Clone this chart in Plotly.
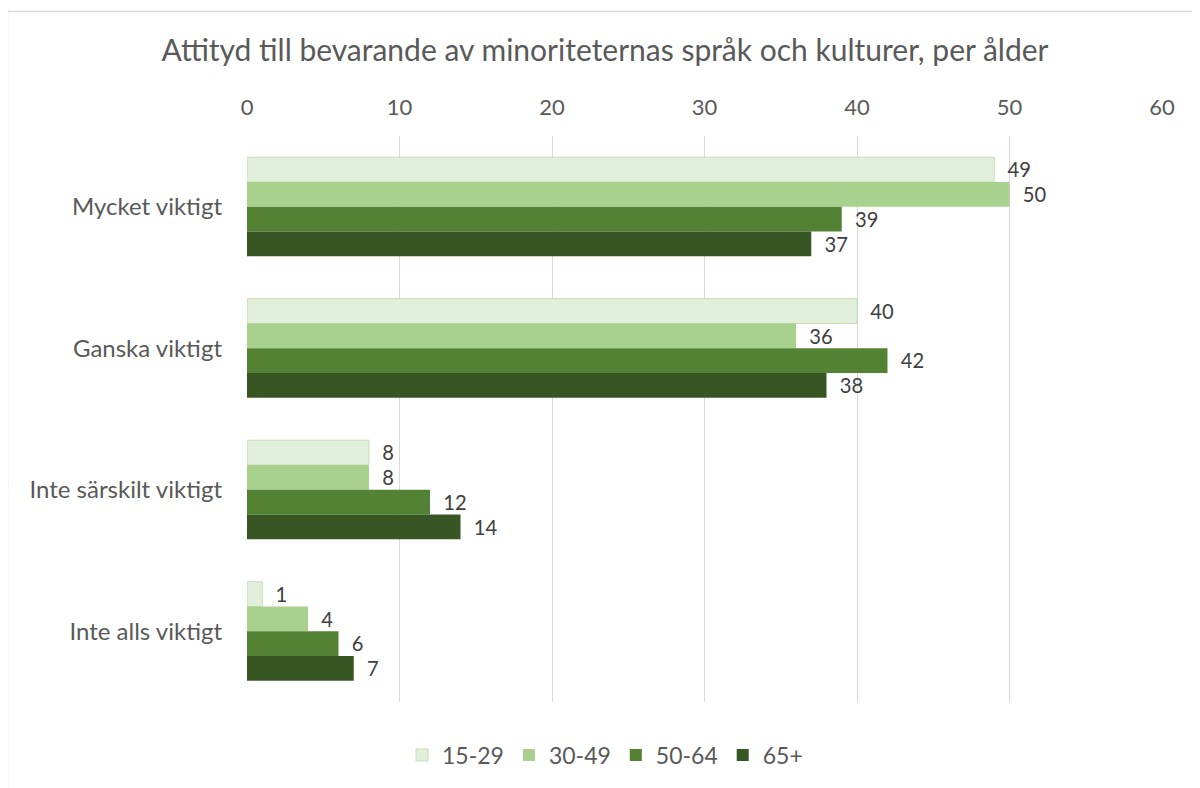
import plotly.graph_objects as go

categories = ["Mycket viktigt", "Ganska viktigt", "Inte särskilt viktigt", "Inte alls viktigt"]
series_names = ["15-29", "30-49", "50-64", "65+"]
values_15_29 = [49, 40, 8, 1]
values_30_49 = [50, 36, 8, 4]
values_50_64 = [39, 42, 12, 6]
values_65 = [37, 38, 14, 7]
x_ticks = [0, 10, 20, 30, 40, 50, 60]
title_text = "Attityd till bevarande av minoriteternas språk och kulturer, per ålder"

all_values = [values_15_29, values_30_49, values_50_64, values_65]
colors = ["#E2EFDA", "#A9D18E", "#548235", "#375623"]
line_colors = ["#C5E0B4", "#A9D18E", "#548235", "#375623"]
line_widths = [1, 0, 0, 0]

FONT = "Lato"

fig = go.Figure()
for name, vals, c, lc, lw in zip(series_names, all_values, colors, line_colors, line_widths):
    fig.add_trace(go.Bar(
        name=name, y=categories, x=vals, orientation="h",
        marker=dict(color=c, line=dict(color=lc, width=lw)),
        text=vals, texttemplate="\u00a0\u00a0%{x}", textposition="outside",
        textfont=dict(family=FONT, size=22, color="#404040"),
        cliponaxis=False,
    ))

# page is offset by 8px (browser body margin)
OFF = 8
W, H = 1200, 788
L, T = 247 - OFF, 136 - OFF
pw, ph = 915, 566
R, B = W - L - pw, H - T - ph

def px_to_paper_x(px):
    return (px - OFF - L) / pw

def px_to_paper_y(py):
    return (T + ph - (py - OFF)) / ph

fig.update_layout(
    width=W, height=H,
    margin=dict(l=L, r=R, t=T, b=B),
    paper_bgcolor="white", plot_bgcolor="white",
    barmode="group", bargap=0.30, bargroupgap=0,
    font=dict(family=FONT, color="#595959"),
    title=dict(text=title_text, x=(605 - OFF) / W, xref="container", xanchor="center",
               y=1 - (50 - OFF) / H, yref="container", yanchor="middle",
               font=dict(family=FONT, size=30, color="#595959")),
    xaxis=dict(side="top", range=[0, 60], tickvals=x_ticks, showgrid=True,
               gridcolor="#D9D9D9", gridwidth=1, zeroline=False,
               showline=False, ticks="", ticklabelstandoff=16,
               tickfont=dict(family=FONT, size=22, color="#595959")),
    yaxis=dict(autorange="reversed", showgrid=False, zeroline=False,
               showline=False, ticks="", ticklabelstandoff=24,
               tickfont=dict(family=FONT, size=24, color="#595959")),
    legend=dict(orientation="h", x=(605 - OFF) / W, xref="container", xanchor="center",
                y=1 - (755 - OFF) / H, yref="container", yanchor="middle",
                font=dict(family=FONT, size=23, color="#595959"),
                traceorder="normal"),
    showlegend=True,
    shapes=[dict(type="rect", xref="paper", yref="paper",
                 x0=px_to_paper_x(7.5), x1=px_to_paper_x(1210),
                 y0=px_to_paper_y(800), y1=px_to_paper_y(11.5),
                 line=dict(color="#D9D9D9", width=1.5), fillcolor="rgba(0,0,0,0)",
                 layer="below")],
)

fig.write_html("out.html")
